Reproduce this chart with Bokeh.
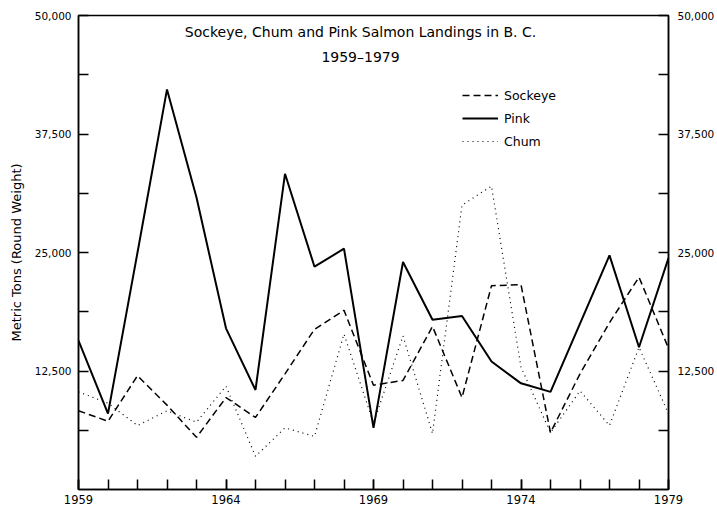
from bokeh.plotting import figure
from bokeh.models import (FixedTicker, LinearAxis, Range1d, Legend, LegendItem,
                          Label, NumeralTickFormatter)
from bokeh.embed import file_html
from bokeh.resources import INLINE

years = list(range(1959, 1980))
pink = [15700, 8000, 25000, 42200, 30800, 17000, 10500, 33300, 23500, 25400, 6500,
        24000, 17900, 18300, 13500, 11200, 10300, 17500, 24700, 15000, 24400]
sockeye = [8300, 7200, 12000, 8900, 5500, 9700, 7600, 12200, 16900, 18900, 11000,
           11500, 17200, 9700, 21500, 21600, 6000, 12200, 17600, 22400, 14900]
chum = [10300, 9100, 6750, 8300, 7100, 10900, 3500, 6500, 5600, 16400, 7000,
        16200, 5900, 30000, 32000, 12900, 6000, 10400, 6750, 15000, 8000]

y_major = [12500, 25000, 37500, 50000]
y_minor = [6250, 18750, 31250, 43750]
x_major = [1959, 1964, 1969, 1974, 1979]

title_1 = "Sockeye, Chum and Pink Salmon Landings in B. C."
title_2 = "1959\u20131979"
y_title = "Metric Tons (Round Weight)"

FONT = "DejaVu Sans"

p = figure(width=717, height=508, output_backend="svg", toolbar_location=None,
           x_range=Range1d(1959, 1979), y_range=Range1d(0, 50000),
           min_border_left=78, min_border_right=40, min_border_top=15,
           min_border_bottom=19, x_axis_location=None, y_axis_location=None)
p.grid.visible = False
p.outline_line_color = "black"
p.outline_line_width = 1.5
p.background_fill_color = "white"
p.border_fill_color = "white"

def style_axis(ax, size="10.5px"):
    ax.axis_line_color = "black"
    ax.axis_line_width = 1.5
    ax.major_tick_in = 10
    ax.major_tick_out = 0
    ax.minor_tick_in = 10
    ax.minor_tick_out = 0
    ax.major_tick_line_width = 1.5
    ax.minor_tick_line_width = 1.5
    ax.major_label_text_font = FONT
    ax.major_label_text_font_size = size
    ax.major_label_text_color = "black"

yt = FixedTicker(ticks=y_major, minor_ticks=y_minor)
left = LinearAxis(ticker=yt, formatter=NumeralTickFormatter(format="0,0"),
                  axis_label=y_title)
style_axis(left)
left.axis_label_text_font = FONT
left.axis_label_text_font_size = "13px"
left.axis_label_text_font_style = "normal"
left.axis_label_text_color = "black"
left.axis_label_standoff = 8
left.major_label_standoff = 7
p.add_layout(left, "left")

right = LinearAxis(ticker=FixedTicker(ticks=y_major, minor_ticks=y_minor),
                   formatter=NumeralTickFormatter(format="0,0"))
style_axis(right)
right.major_label_standoff = 9
p.add_layout(right, "right")

xt = FixedTicker(ticks=x_major, minor_ticks=years)
bottom = LinearAxis(ticker=xt)
style_axis(bottom, "11.5px")
bottom.major_label_standoff = 5
p.add_layout(bottom, "below")

r_s = p.line(years, sockeye, line_color="black", line_width=1.5, line_dash="7 4")
r_p = p.line(years, pink, line_color="black", line_width=2)
r_c = p.line(years, chum, line_color="black", line_width=1.2, line_dash="1 4")

legend = Legend(items=[LegendItem(label="Sockeye", renderers=[r_s]),
                       LegendItem(label="Pink", renderers=[r_p]),
                       LegendItem(label="Chum", renderers=[r_c])],
                location=(384, 338), border_line_color=None,
                background_fill_alpha=0, glyph_width=36, glyph_height=20,
                label_height=20, spacing=3, padding=0, margin=0,
                label_standoff=6, label_text_font=FONT,
                label_text_font_size="12.5px", label_text_color="black")
p.add_layout(legend, "center")

for txt, yv in [(title_1, 48300), (title_2, 45600)]:
    p.add_layout(Label(x=1968.56, y=yv, text=txt, text_align="center",
                       text_baseline="middle", text_font=FONT,
                       text_font_size="14px", text_color="black"))

open("out.html", "w").write(file_html(p, INLINE))
